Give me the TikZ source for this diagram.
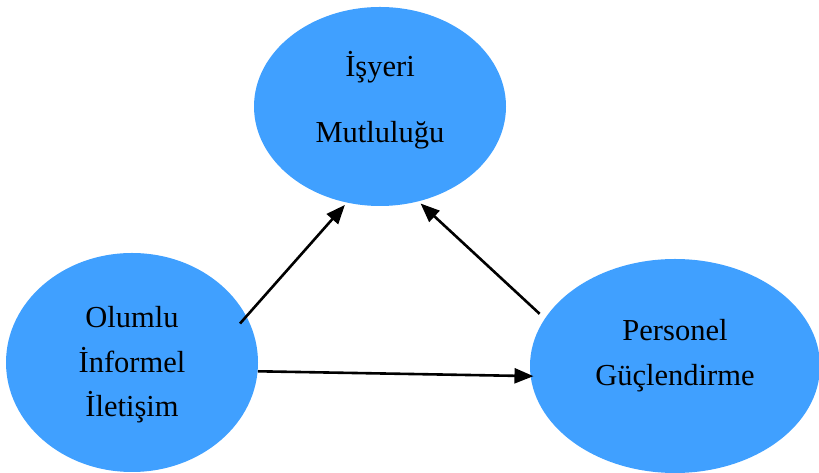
\documentclass[tikz,border=0pt]{standalone}
\usepackage{fontspec}
\setmainfont{Liberation Serif}
\usetikzlibrary{shapes.geometric,arrows.meta}
\definecolor{bub}{RGB}{64,160,255}
\newcommand{\btext}[2]{\raisebox{#1}[\height][\depth]{\begin{tabular}{@{}c@{}}#2\end{tabular}}}
\begin{document}
\begin{tikzpicture}[x=1pt,y=1pt,
  bubble/.style={ellipse,fill=bub,draw=none,inner sep=0pt,
    font=\fontsize{30.5}{44.5}\selectfont},
  conn/.style={line width=2.6pt,-{Triangle[length=19pt,width=15pt]}}]
\useasboundingbox (0,0) rectangle (819,473);
\node[bubble,minimum width=252pt,minimum height=199pt] (T) at (380,366.5)
  {\btext{5.4pt}{İşyeri\\[21.5pt]Mutluluğu}};
\node[bubble,minimum width=252pt,minimum height=219pt] (L) at (132,110.5)
  {\btext{-1.1pt}{Olumlu\\İnformel\\İletişim}};
\node[bubble,minimum width=290pt,minimum height=214pt] (R) at (675,107)
  {\btext{11.9pt}{Personel\\Güçlendirme}};
\draw[conn,shorten <=-9.7pt,shorten >=3pt] (L.22.7) -- (T.251.5);
\draw[conn,shorten <=7pt,shorten >=3pt] (R.160.8) -- (T.292);
\draw[conn,shorten >=-3pt] (L.-4.8) -- (R.184);
\end{tikzpicture}
\end{document}
